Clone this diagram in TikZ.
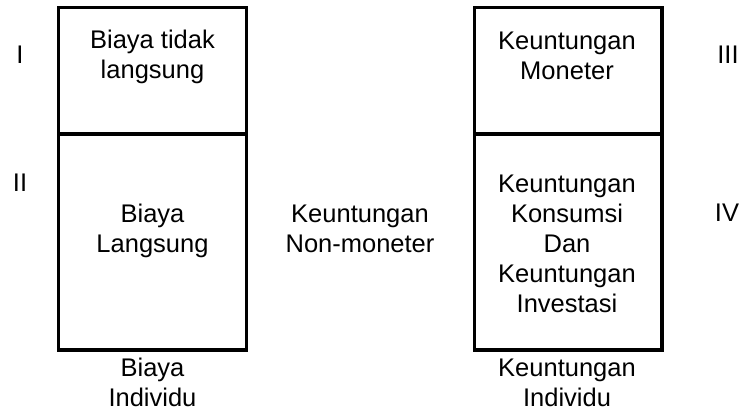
\documentclass[tikz,border=0pt]{standalone}
\usepackage{fontspec}
\setmainfont{Liberation Sans}
\begin{document}
\begin{tikzpicture}[x=1pt,y=-1pt,
  box/.style={draw=black, line width=3.3pt, inner sep=0pt, outer sep=0pt, minimum width=187.5pt},
  lbl/.style={align=center, inner sep=0pt, anchor=base, font=\fontsize{25.5}{30}\selectfont}]
\useasboundingbox (0,0) rectangle (741,412);
% boxes
\node[box, minimum height=126.3pt] (boxTL) at (152.5,70.85) {};
\node[box, minimum height=216pt] (boxBL) at (152.5,242) {};
\node[box, minimum height=126.3pt] (boxTR) at (568.25,70.85) {};
\node[box, minimum height=216pt] (boxBR) at (568.25,242) {};
% texts (anchor = baseline of the last line)
\node[lbl] (tTL) at (152.5,78.7) {Biaya tidak\\langsung};
\node[lbl] (tTR) at (567,79.3) {Keuntungan\\Moneter};
\node[lbl] (tBL) at (152.5,252) {Biaya\\Langsung};
\node[lbl] (tMid) at (360,252) {Keuntungan\\Non-moneter};
\node[lbl] (tBR) at (567,312) {Keuntungan\\Konsumsi\\Dan\\Keuntungan\\Investasi};
\node[lbl] (capL) at (152.5,406) {Biaya\\Individu};
\node[lbl] (capR) at (567,406) {Keuntungan\\Individu};
\node[lbl] (rI) at (20,63.3) {I};
\node[lbl] (rII) at (20,191.7) {II};
\node[lbl] (rIII) at (728,63.3) {III};
\node[lbl] (rIV) at (727,221.7) {IV};
\end{tikzpicture}
\end{document}
